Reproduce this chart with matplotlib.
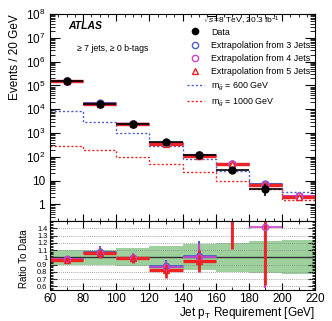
import numpy as np
import matplotlib.pyplot as plt
from matplotlib.ticker import FixedLocator, MultipleLocator, LogLocator, NullFormatter, FuncFormatter
from matplotlib.lines import Line2D

plt.rcParams['font.family'] = ['Liberation Sans', 'DejaVu Sans']
plt.rcParams['mathtext.fontset'] = 'custom'
plt.rcParams['mathtext.rm'] = 'Liberation Sans'
plt.rcParams['mathtext.it'] = 'Liberation Sans:italic'
plt.rcParams['mathtext.bf'] = 'Liberation Sans:bold'

# binning (jet pT requirement, GeV)
edges = [60, 80, 100, 120, 140, 160, 180, 200, 220]
centers = [70, 90, 110, 130, 150, 170, 190, 210]

# data (7 bins)
data = [1.55e5, 1.6e4, 2.5e3, 430, 115, 27, 4.6]
data_err = [390, 125, 50, 21, 11, 5.2, 2.3]

# extrapolations, main panel
ext3 = [1.52e5, 1.75e4, 2.5e3, 380, 118, 52, 7.0, 2.3]
ext4 = [1.5e5, 1.72e4, 2.48e3, 372, 114, 50, 6.6, 2.2]
ext5 = [1.48e5, 1.7e4, 2.45e3, 360, 108, 48, 6.3, 2.1]

# signal shapes
sig600 = [8500, 3000, 1050, 285, 80, 25, 7.0, 3.3]
sig1000 = [285, 195, 98, 52, 23, 10, 4.3, 1.6]

# ratio panel
ratio3 = [0.98, 1.07, 0.99, 0.875, 1.02, 1.85, 1.65]
ratio4 = [0.975, 1.065, 0.99, 0.86, 1.0, 1.8, 1.42]
ratio5 = [0.965, 1.055, 0.985, 0.82, 0.95, 1.78, 1.6]
rerr3 = [0.03, 0.08, 0.07, 0.09, 0.2, 0.7, 1.0]
rerr4 = [0.03, 0.08, 0.07, 0.09, 0.18, 0.68, 0.84]
rerr5 = [0.03, 0.07, 0.06, 0.1, 0.15, 0.66, 0.98]
band_lo = [0.9, 0.9, 0.88, 0.84, 0.82, 0.8, 0.78, 0.77]
band_hi = [1.1, 1.1, 1.13, 1.16, 1.18, 1.2, 1.22, 1.24]

blue = '#4a5fc8'
magenta = '#cc44cc'
red = '#ee2222'

fig = plt.figure(figsize=(3.32, 3.21), dpi=100)
ax = fig.add_axes([0.1506, 0.3115, 0.7984, 0.6445])
rax = fig.add_axes([0.1506, 0.0966, 0.7984, 0.2149])

lo = edges[:-1]
hi = edges[1:]

# bands around extrapolation
for l, h, v in zip(lo, hi, ext5):
    ax.fill_between([l, h], v * 0.85, v * 1.18, color='#d3cccc', lw=0)

ax.stairs(sig600, edges, color=blue, ls=(0, (1.5, 1.5)), lw=1.0, baseline=None)
ax.stairs(sig1000, edges, color=red, ls=(0, (1.5, 1.5)), lw=1.0, baseline=None)

ax.hlines(ext3, lo, hi, color=blue, lw=2.2)
ax.hlines(ext4, lo, hi, color=magenta, lw=2.2)
ax.hlines(ext5, lo, hi, color=red, lw=2.4)
ax.plot(centers, ext3, 'o', mfc='none', mec=blue, ms=5, mew=1)
ax.plot(centers, ext4, 'o', mfc='none', mec=magenta, ms=5, mew=1)
ax.plot(centers, ext5, '^', mfc='white', mec=red, ms=5, mew=1)

ax.errorbar(centers[:7], data, xerr=10, yerr=data_err, fmt='o', color='black',
            ms=5, lw=1.2, capsize=0, zorder=5)

ax.set_yscale('log')
ax.set_xlim(60, 220)
ax.set_ylim(0.2, 1e8)
ax.yaxis.set_major_locator(LogLocator(base=10, numticks=20))
ax.yaxis.set_minor_locator(LogLocator(base=10, subs=np.arange(2, 10), numticks=20))
ax.yaxis.set_minor_formatter(NullFormatter())


def fmt_log(v, pos):
    if v == 1:
        return '1'
    if v == 10:
        return '10'
    return r'$\mathregular{10^{%d}}$' % int(round(np.log10(v)))


ax.yaxis.set_major_formatter(FuncFormatter(fmt_log))
ax.xaxis.set_major_locator(MultipleLocator(20))
ax.xaxis.set_minor_locator(MultipleLocator(5))
ax.tick_params(which='both', direction='in', top=True, right=True, labelbottom=False, labelsize=8.5)
ax.tick_params(axis='y', which='major', length=7, width=0.8)
ax.tick_params(axis='y', which='minor', length=3.5, width=0.6)
ax.tick_params(axis='x', which='major', length=5, width=0.8)
ax.tick_params(axis='x', which='minor', length=2.5, width=0.6)
ax.set_ylabel('Events / 20 GeV', fontsize=8.5, loc='top')
ax.yaxis.set_label_coords(-0.11, 1.0)

ax.text(0.068, 0.942, 'ATLAS', transform=ax.transAxes, fontsize=7.5,
        fontweight='bold', fontstyle='italic', va='center')
ax.text(0.102, 0.836, '\u2265 7 jets, \u2265 0 b-tags', transform=ax.transAxes,
        fontsize=6.3, va='center')
ax.text(0.577, 0.968, r'$\sqrt{s}$=8 TeV, 20.3 fb$^{-1}$', transform=ax.transAxes,
        fontsize=6, va='center', zorder=10)

handles = [
    Line2D([], [], ls='none', marker='o', color='black', ms=4.5),
    Line2D([], [], ls='none', marker='o', mfc='none', mec=blue, ms=4.5),
    Line2D([], [], ls='none', marker='o', mfc='none', mec=magenta, ms=4.5),
    Line2D([], [], ls='none', marker='^', mfc='none', mec=red, ms=4.5),
    Line2D([], [], color=blue, ls=(0, (1.5, 1.5)), lw=1.0),
    Line2D([], [], color=red, ls=(0, (1.5, 1.5)), lw=1.0),
]
labels = ['Data', 'Extrapolation from 3 Jets', 'Extrapolation from 4 Jets',
          'Extrapolation from 5 Jets', r'm$_{\tilde{g}}$ = 600 GeV', r'm$_{\tilde{g}}$ = 1000 GeV']
ax.legend(handles, labels, loc='upper left', bbox_to_anchor=(0.515, 0.935), frameon=False,
          fontsize=6.4, handlelength=2.0, handletextpad=0.8, borderpad=0, borderaxespad=0,
          labelspacing=0.48)

# ratio panel
rax.fill_between(edges, band_lo + [band_lo[-1]], band_hi + [band_hi[-1]], step='post',
                 color='#9dd09d', lw=0)
for g in [0.6, 0.7, 0.8, 0.9, 1.1, 1.2, 1.3, 1.4]:
    rax.axhline(g, color='#888888', ls=(0, (1, 1.5)), lw=0.6)
rax.axhline(1.0, color='#333333', lw=1.0)

rlo = lo[:7]
rhi = hi[:7]
rax.hlines(ratio3, rlo, rhi, color=blue, lw=2.0)
rax.errorbar(centers[:7], ratio3, yerr=rerr3, fmt='o', mfc='none', mec=blue, ecolor=blue,
             ms=4.5, lw=1.5, capsize=0)
rax.hlines(ratio4, rlo, rhi, color=magenta, lw=1.2)
rax.errorbar(centers[:7], ratio4, yerr=rerr4, fmt='o', mfc='none', mec=magenta, ecolor=magenta,
             ms=4.5, lw=1.5, capsize=0)
rax.hlines(ratio5, rlo, rhi, color=red, lw=2.4)
rax.errorbar(centers[:7], ratio5, yerr=rerr5, fmt='^', mfc='none', mec=red, ecolor=red,
             ms=4.5, lw=2.0, capsize=0)

rax.set_xlim(60, 220)
rax.set_ylim(0.55, 1.5)
rax.xaxis.set_major_locator(MultipleLocator(20))
rax.xaxis.set_minor_locator(MultipleLocator(10))
rax.yaxis.set_major_locator(FixedLocator([0.6, 0.7, 0.8, 0.9, 1.0, 1.1, 1.2, 1.3, 1.4]))
rax.yaxis.set_major_formatter(FuncFormatter(lambda v, p: '1' if abs(v - 1) < 1e-6 else '%.1f' % v))
rax.yaxis.set_minor_locator(MultipleLocator(0.02))
rax.tick_params(which='both', direction='in', top=True, right=True)
rax.tick_params(axis='x', labelsize=8.5, pad=2)
rax.tick_params(axis='y', labelsize=5.3, pad=2)
rax.tick_params(which='major', length=5, width=0.8)
rax.tick_params(which='minor', length=2.5, width=0.6)
rax.set_xlabel(r'Jet p$_{\mathregular{T}}$ Requirement [GeV]', fontsize=8.5, loc='right', labelpad=0)
rax.set_ylabel('Ratio To Data', fontsize=7)
rax.yaxis.set_label_coords(-0.08, 0.45)

fig.savefig('out.png', dpi=100)
